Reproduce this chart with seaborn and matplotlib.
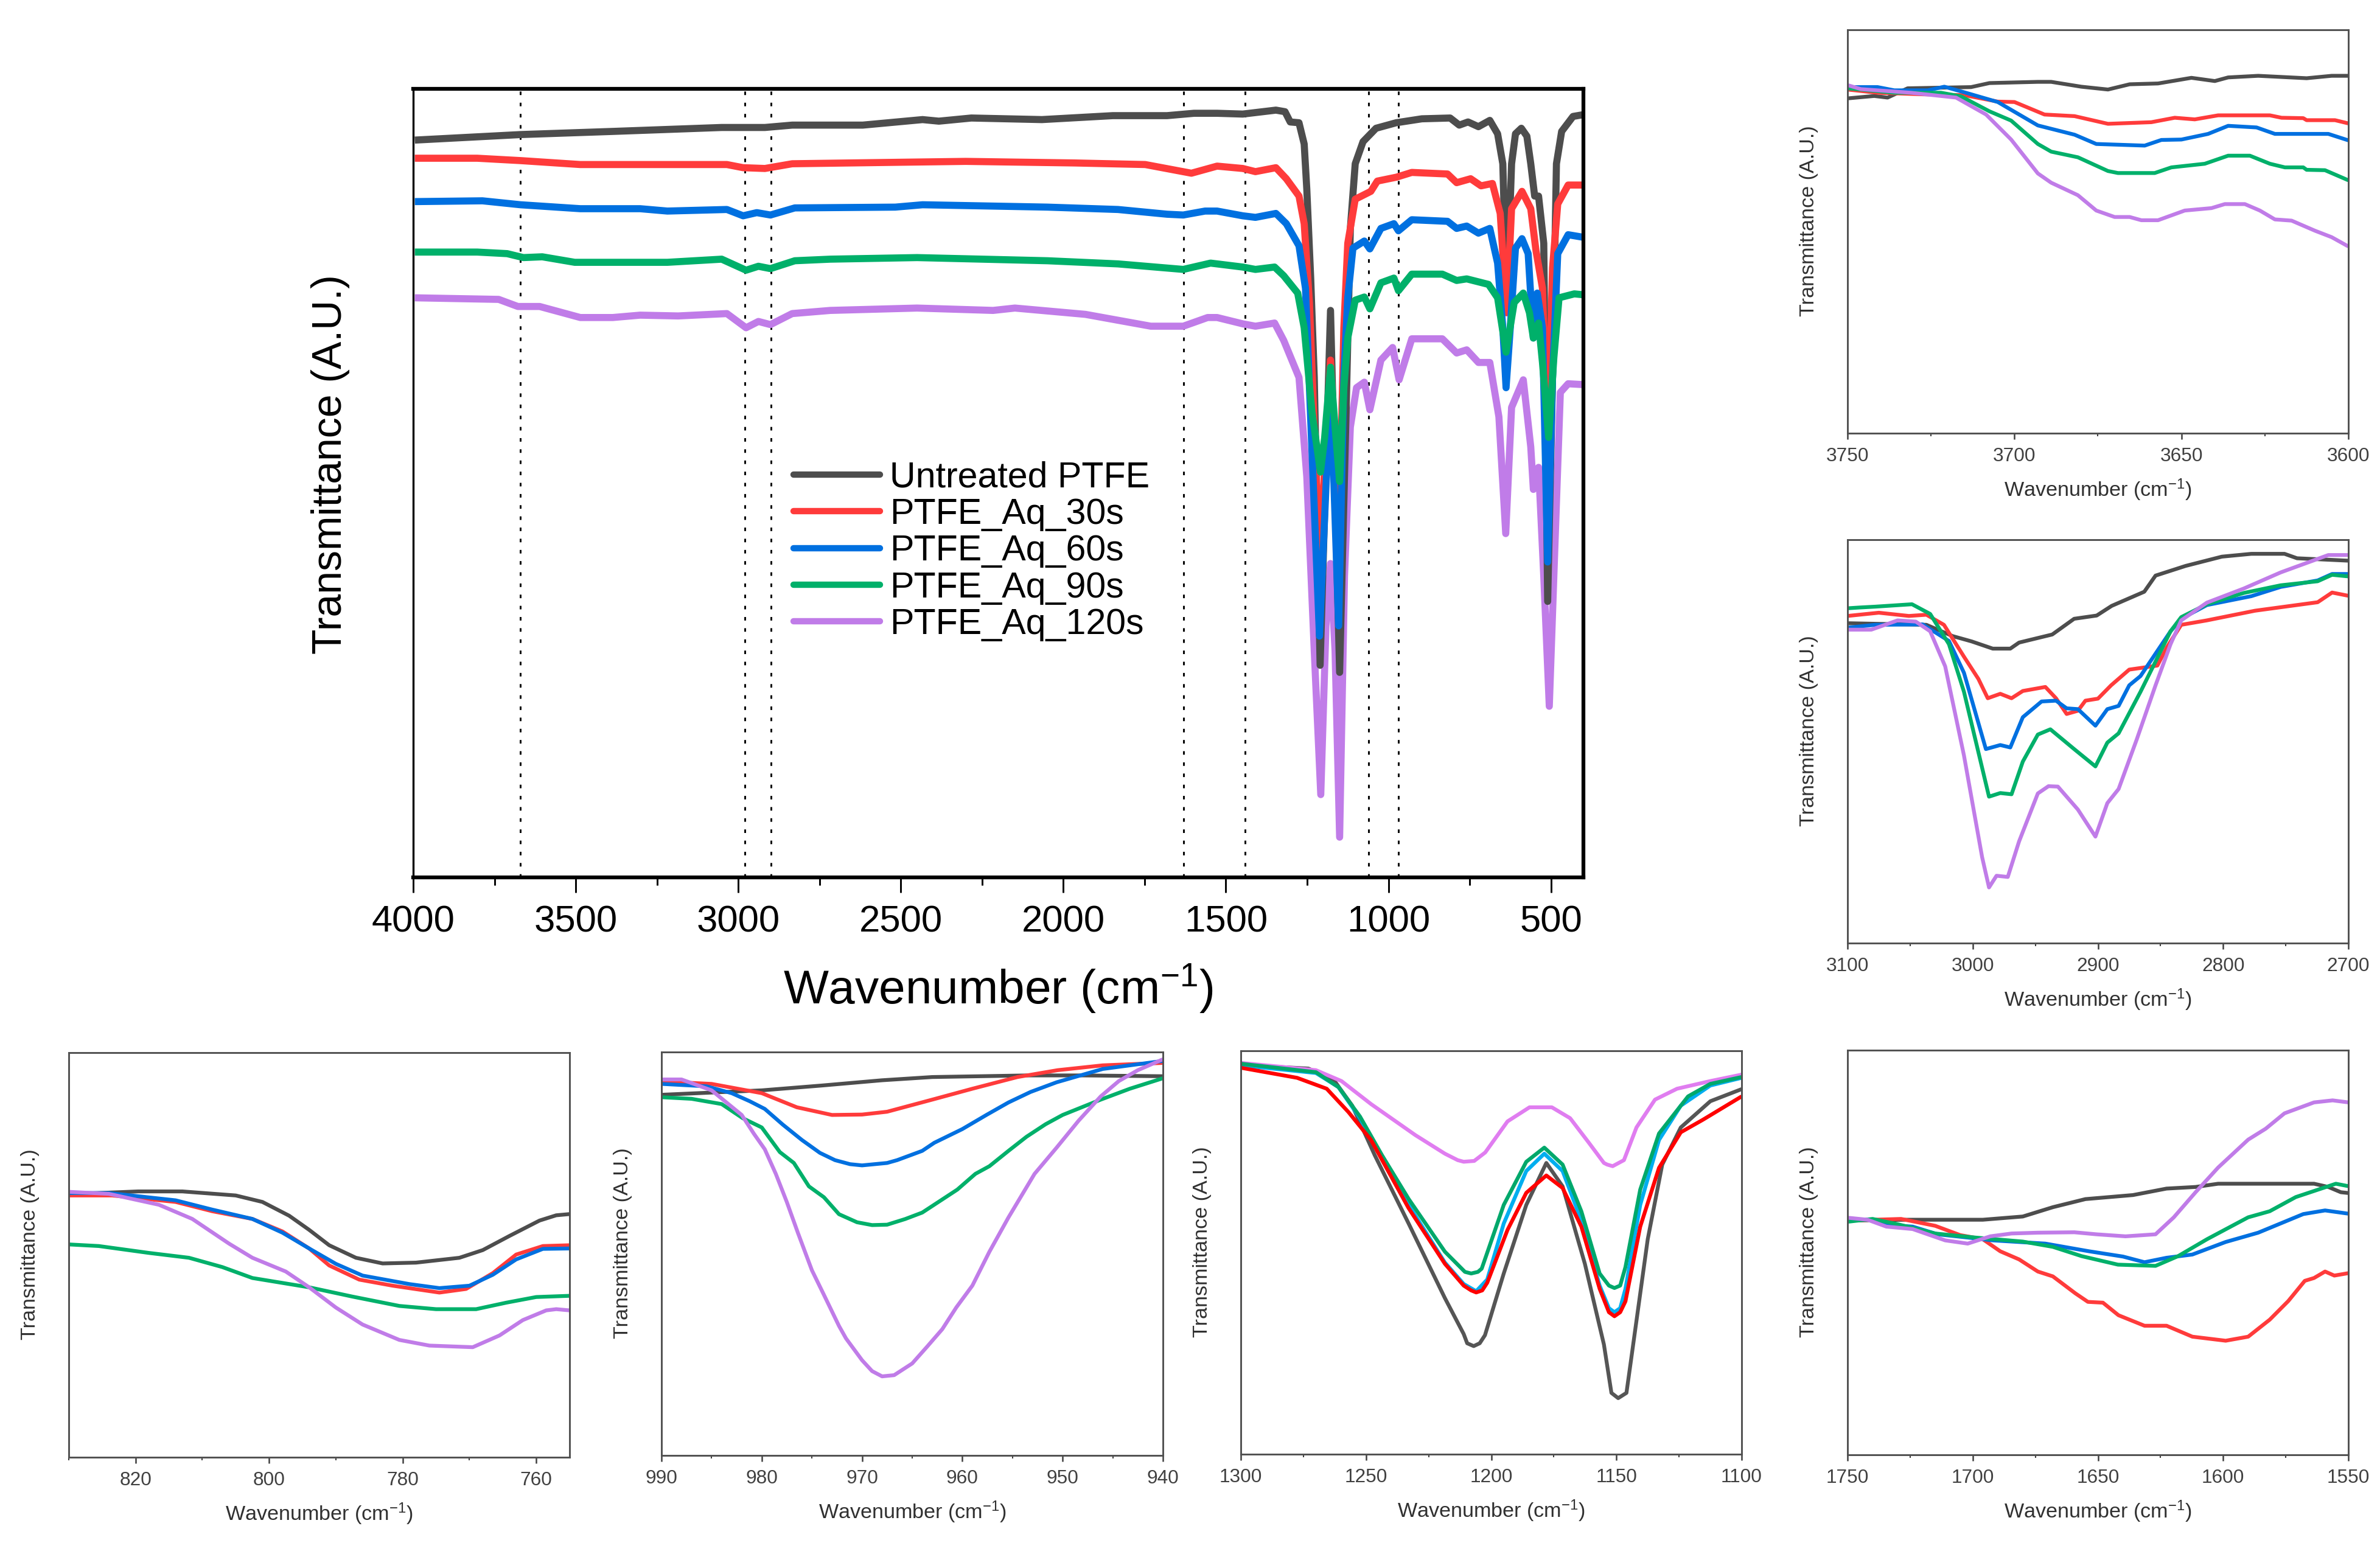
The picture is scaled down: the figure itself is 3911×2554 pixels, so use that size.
#!/usr/bin/env python3
# FTIR spectra of PTFE samples, overview plus six zoomed regions
import matplotlib
matplotlib.use('Agg')
import matplotlib.pyplot as plt
from matplotlib.lines import Line2D
from matplotlib.ticker import MultipleLocator
import seaborn as sns

# overview spectrum, y is % of the (unlabelled) axis height
main_black_x = [3995, 3670, 3386, 3051, 2918, 2834, 2617, 2433, 2383, 2283, 2066, 1848, 1681, 1598, 1527, 1448, 1346,
                1318, 1302, 1275, 1259, 1251, 1239, 1228, 1210, 1178, 1150, 1129, 1117, 1102, 1078, 1038, 976, 897,
                810, 782, 755, 723, 688, 664, 648, 636, 621, 609, 591, 574, 562, 550, 538, 522, 510, 495, 483, 467,
                432, 404]
main_black_y = [93.5, 94.2, 94.6, 95.1, 95.1, 95.4, 95.4, 96.1, 95.9, 96.3, 96.1, 96.6, 96.6, 96.9, 96.9, 96.8, 97.3,
                97.1, 95.8, 95.7, 93, 87.3, 76, 63.4, 26.9, 71.9, 26, 60.9, 82.3, 90.5, 93.3, 95, 95.7, 96.2,
                96.3, 95.4, 95.8, 95.2, 96, 94.3, 90.5, 72.8, 90.5, 94.3, 95, 94, 90.5, 86.4, 86.4, 80.4, 35, 63.4,
                90.5, 94.6, 96.5, 96.7]
main_red_x = [3995, 3803, 3670, 3486, 3035, 2985, 2918, 2834, 2483, 2300, 1965, 1748, 1606, 1527, 1448, 1409, 1346,
              1314, 1275, 1259, 1243, 1228, 1212, 1178, 1151, 1137, 1125, 1102, 1054, 1034, 975, 928, 818, 790, 747,
              715, 680, 656, 636, 621, 589, 562, 546, 526, 510, 495, 479, 447, 404]
main_red_y = [91.2, 91.2, 90.9, 90.4, 90.4, 90, 89.9, 90.5, 90.7, 90.8, 90.6, 90.4, 89.3, 90.2, 89.9, 89.5, 90,
              88.6, 86.4, 82.9, 72.9, 57, 40, 65.6, 44.5, 69.7, 80.4, 86, 87, 88.3, 88.8, 89.4, 89.2, 88.1, 88.6,
              87.7, 88, 84.2, 71.6, 84.8, 87, 84.8, 79.5, 74.7, 54.6, 77.3, 85.4, 87.8, 87.8]
main_blue_x = [3995, 3787, 3670, 3486, 3302, 3218, 3035, 2985, 2943, 2901, 2826, 2517, 2433, 2049, 1832, 1681, 1631,
               1564, 1527, 1448, 1409, 1346, 1314, 1275, 1255, 1235, 1212, 1178, 1153, 1137, 1125, 1109, 1074, 1057,
               1023, 983, 969, 928, 818, 790, 759, 723, 688, 664, 648, 638, 625, 609, 589, 570, 554, 542, 526, 510,
               495, 479, 447, 404]
main_blue_y = [85.7, 85.8, 85.3, 84.8, 84.8, 84.5, 84.7, 83.9, 84.3, 84, 84.9, 85, 85.3, 85, 84.7, 84.1, 84,
               84.5, 84.5, 83.9, 83.7, 84.2, 82.9, 80.1, 74.7, 54, 30.6, 62.8, 31.9, 63.4, 73.5, 79.8, 80.7, 79.7,
               82.3, 82.9, 82, 83.4, 83.2, 82.3, 82.6, 81.7, 82.3, 77.9, 69.7, 62.1, 69.7, 79.8, 81, 79.1, 68.4, 74.1,
               69.7, 40, 63.4, 79.1, 81.5, 81.2]
main_green_x = [3995, 3803, 3711, 3661, 3603, 3503, 3352, 3218, 3051, 2976, 2938, 2901, 2826, 2717, 2450, 2049, 1832,
                1631, 1547, 1527, 1448, 1409, 1350, 1322, 1279, 1259, 1235, 1209, 1196, 1178, 1164, 1150, 1137, 1125,
                1102, 1074, 1057, 1023, 983, 969, 928, 834, 790, 759, 692, 664, 638, 613, 585, 566, 554, 538, 526,
                507, 491, 475, 428, 404]
main_green_y = [79.3, 79.3, 79.1, 78.6, 78.7, 78, 78, 78, 78.4, 77, 77.5, 77.2, 78.2, 78.4, 78.6, 78.2, 77.8,
                77.1, 77.9, 77.8, 77.4, 77.1, 77.4, 76.3, 74.1, 69.7, 59, 51.4, 55.8, 64.7, 57.1, 50.2, 62.1, 68.4,
                73.2, 73.6, 72.1, 75.4, 76, 74.4, 76.5, 76.5, 75.7, 75.9, 75.2, 73.5, 66.6, 72.9, 74.1, 71.6, 68.4,
                70.3, 65.3, 55.8, 65.9, 73.5, 74, 73.9]
main_purple_x = [3995, 3737, 3678, 3611, 3486, 3386, 3302, 3185, 3035, 2976, 2938, 2901, 2834, 2717, 2450, 2216, 2149,
                 1932, 1731, 1631, 1556, 1527, 1448, 1409, 1350, 1322, 1275, 1251, 1228, 1208, 1192, 1178, 1164, 1150,
                 1135, 1117, 1098, 1074, 1057, 1023, 987, 967, 928, 834, 790, 759, 723, 688, 660, 639, 621, 585, 562,
                 554, 538, 522, 505, 491, 471, 447, 404]
main_purple_y = [73.5, 73.3, 72.4, 72.4, 71, 71, 71.3, 71.2, 71.5, 69.7, 70.5, 70.1, 71.5, 71.9, 72.2, 71.9, 72.2,
                 71.4, 69.9, 69.9, 71, 71, 70.2, 69.9, 70.3, 68.1, 63.4, 50.8, 28.7, 10.5, 31.9, 39.8, 28.7, 5.1,
                 38.2, 57.1, 62.1, 62.8, 59.3, 65.6, 67.2, 63.1, 68.3, 68.3, 66.5, 66.9, 65.3, 65.3, 58.4, 43.6, 59.6,
                 63.1, 54.6, 49.2, 52, 38.2, 21.7, 38.2, 61.5, 62.6, 62.5]
main_peaks = [3670, 2980, 2900, 1630, 1440, 1060, 970]

# 3750-3600 region
oh_black_x = [3750, 3742, 3738, 3732, 3713, 3707.5, 3693, 3689, 3680, 3672, 3665.5, 3657, 3647, 3640, 3636, 3627, 3612.5, 3605, 3600]
oh_black_y = [83, 83.6, 83.2, 85.5, 85.8, 86.8, 87.1, 87.1, 85.9, 85.2, 86.5, 86.7, 88.1, 87.3, 88.2, 88.6, 88, 88.6, 88.6]
oh_red_x = [3750, 3741, 3727, 3715, 3705, 3700, 3691, 3682, 3672, 3659, 3652, 3646, 3639, 3623.5, 3620, 3613.5, 3612.5, 3604, 3600]
oh_red_y = [85.2, 84.4, 84, 83.8, 82.2, 82.1, 79, 78.6, 76.7, 77.1, 78.2, 77.8, 78.8, 78.8, 78.2, 78.1, 77.6, 77.6, 76.8]
oh_blue_x = [3750, 3741, 3736, 3726, 3721, 3715, 3705, 3693, 3682, 3675.5, 3661, 3656, 3650, 3642, 3636, 3627.5, 3622, 3606, 3600]
oh_blue_y = [85.8, 85.8, 85, 85, 85.9, 84.5, 82.1, 76.3, 74, 71.7, 71.3, 72.7, 72.8, 74.2, 76.2, 75.8, 74.2, 74.2, 72.6]
oh_green_x = [3750, 3736, 3722, 3716, 3707.5, 3701, 3693, 3689, 3681, 3672, 3669, 3658, 3653, 3643, 3636, 3629.5, 3623.5, 3619, 3613.5, 3612.5, 3607, 3600]
oh_green_y = [85.5, 84.4, 84.4, 83.5, 79.8, 77.5, 71.7, 69.8, 68.4, 65, 64.5, 64.5, 65.9, 66.8, 68.8, 68.8, 66.8, 65.9, 65.9, 65.3, 65.2, 62.7]
oh_purple_x = [3750, 3746, 3731, 3717.5, 3708.5, 3701, 3693, 3689, 3681, 3675.5, 3670, 3665.5, 3662, 3657, 3649, 3641, 3637, 3631, 3626.5, 3622, 3617, 3610, 3605, 3600]
oh_purple_y = [86.3, 85.3, 84.4, 83.2, 79, 72.8, 64.4, 62.1, 59, 55.2, 53.6, 53.6, 52.8, 52.8, 55.2, 55.8, 56.8, 56.8, 55.2, 53, 52.7, 50.2, 48.6, 46.3]

# 3100-2700 region
ch_black_x = [3100, 3037, 3016, 3001, 2984, 2970, 2963, 2936.5, 2919, 2901, 2889, 2863, 2854, 2830, 2801, 2777.5, 2751, 2741, 2700]
ch_black_y = [79.3, 78.9, 76.1, 74.8, 73, 73, 74.5, 76.5, 80.4, 81.2, 83.6, 87.1, 91.1, 93.5, 95.8, 96.5, 96.5, 95.4, 94.8]
ch_red_x = [3100, 3075, 3051, 3037, 3023, 3007, 2995.5, 2988, 2978, 2969, 2960, 2942, 2933.5, 2925, 2916, 2910, 2900, 2889.5, 2875, 2852.5, 2845, 2833.5, 2813, 2774.5, 2724.5, 2713, 2700]
ch_red_y = [81.1, 81.9, 81.1, 81.4, 78.9, 71, 65.5, 60.7, 61.8, 60.7, 62.5, 63.5, 60.7, 56.8, 57.6, 60.1, 60.6, 63.9, 67.8, 68.8, 73.3, 78.9, 80, 82.4, 84.5, 86.9, 86.1]
ch_blue_x = [3100, 3078, 3040, 3019, 3007, 2989.5, 2978, 2970, 2960, 2945, 2933.5, 2925, 2916, 2902, 2892.5, 2883.5, 2875, 2866, 2842, 2833.5, 2813, 2777.5, 2754, 2724.5, 2713, 2700]
ch_blue_y = [78.2, 78.9, 79, 74.9, 67, 48.1, 49.1, 48.5, 56, 59.9, 60.1, 58.2, 58, 53.9, 58, 58.8, 63.9, 66.2, 77.3, 80.4, 83.8, 86, 88.3, 89.9, 91.5, 91.5]
ch_green_x = [3100, 3090, 3078, 3048.5, 3034, 3019, 3007, 2987, 2978, 2969, 2960, 2948, 2938, 2919, 2902, 2892.5, 2883.5, 2866, 2842, 2833.5, 2813, 2783.5, 2754, 2724.5, 2713, 2700]
ch_green_y = [83, 83.2, 83.4, 84, 81.6, 74.1, 62.3, 36.3, 37.2, 36.9, 45, 51.7, 53, 48.1, 43.8, 49.7, 52, 62.3, 77.3, 80.8, 84, 86.8, 88.7, 89.7, 91.3, 90.9]
ch_purple_x = [3100, 3081, 3060, 3045.5, 3034, 3022, 3007, 2992.5, 2987, 2981, 2972, 2963, 2948, 2939.5, 2932, 2916, 2902, 2892.5, 2883.5, 2869, 2854, 2842, 2833.5, 2813, 2783.5, 2754, 2716, 2700]
ch_purple_y = [77.7, 77.7, 80, 79.7, 77.3, 68.6, 46.5, 21.3, 13.8, 16.7, 16.4, 25.2, 37.1, 38.9, 38.8, 33.1, 26.4, 34.7, 38.2, 50.5, 63.9, 74.1, 80, 84.4, 87.9, 91.9, 96.2, 96.2]

# 830-755 region
r800_black_x = [830, 819.6, 813, 805, 801, 797, 794, 791, 787, 783, 778, 771.5, 768, 764, 759.5, 757, 755]
r800_black_y = [65, 65.7, 65.7, 64.7, 63.1, 59.7, 56.2, 52.4, 49.3, 47.9, 48.1, 49.3, 51.2, 54.7, 58.5, 59.8, 60.1]
r800_red_x = [830, 823.5, 814, 808.5, 802.5, 798, 794, 791, 786.5, 781.5, 774.5, 770.5, 766.5, 763, 759, 755]
r800_red_y = [64.7, 64.7, 63.1, 60.8, 58.9, 55.8, 51.6, 47.4, 43.9, 42.4, 40.7, 41.6, 45.5, 50.1, 52.2, 52.4]
r800_blue_x = [830, 824, 814, 808.5, 802.5, 798, 794, 790, 786, 779, 774.5, 770, 766.5, 763, 759, 755]
r800_blue_y = [65.3, 65.3, 63.5, 61.2, 58.9, 55.5, 51.6, 47.8, 44.9, 42.8, 41.8, 42.4, 45.1, 48.9, 51.5, 51.6]
r800_green_x = [830, 825.5, 818, 812, 807, 802.5, 794, 787.5, 780.5, 775, 769, 764.5, 760, 755]
r800_green_y = [52.6, 52.2, 50.5, 49.3, 47, 44.3, 42, 39.7, 37.4, 36.6, 36.6, 38.2, 39.6, 39.9]
r800_purple_x = [830, 824, 816.5, 811.5, 806, 802.5, 797.5, 794, 790, 786, 780.5, 776, 769.5, 765.5, 762, 758.5, 757, 755]
r800_purple_y = [65.6, 65.1, 62.4, 58.9, 52.8, 49.3, 45.9, 42, 37, 32.8, 29, 27.6, 27.2, 30.1, 33.9, 36.3, 36.6, 36.3]

# 990-940 region
r970_black_x = [990, 980, 974, 968, 963, 953.5, 948, 940]
r970_black_y = [89.4, 90.5, 91.7, 93, 93.8, 94.2, 94.2, 94]
r970_red_x = [990, 985, 980, 976.5, 973, 970, 967.5, 963, 959, 954.5, 950.5, 946, 940]
r970_red_y = [92.7, 92.1, 89.8, 86.3, 84.4, 84.5, 85.2, 88.2, 90.9, 93.8, 95.5, 96.7, 97.3]
r970_blue_x = [990, 985.5, 983, 981.2, 979.7, 977.9, 976, 974.2, 972.7, 971.2, 970, 967.5, 966.5, 964, 962.8, 960, 957.6, 955.4, 953.2, 950.6, 946, 940]
r970_blue_y = [92.1, 91.5, 89.8, 87.8, 85.9, 82, 78.2, 75, 73.2, 72.2, 71.9, 72.5, 73.2, 75.5, 77.5, 80.9, 84.4, 87.5, 90.1, 92.5, 95.8, 97.8]
r970_green_x = [990, 987, 984, 981.9, 980, 978.2, 976.8, 975.3, 973.8, 972.3, 970.5, 969, 967.5, 965.7, 964, 960.5, 958.7, 957.3, 955.4, 953.6, 951.7, 950, 946.2, 943.3, 940]
r970_green_y = [88.8, 88.4, 87.1, 83.6, 81.3, 75.2, 72.5, 66.7, 64, 59.8, 57.8, 57.1, 57.2, 58.6, 60.2, 65.9, 69.8, 71.7, 75.5, 79, 82.1, 84.4, 88.2, 90.9, 93.5]
r970_purple_x = [990, 988, 985, 982, 980.8, 979.7, 978.6, 977.5, 976.4, 975, 973.8, 972.3, 971.6, 970, 969, 968, 966.8, 965, 963.5, 962, 960.6, 959, 957.3, 955.4, 952.8, 950.6, 948.4, 946.2, 944.4, 942.5, 940]
r970_purple_y = [93.2, 93.2, 90.5, 84.4, 79.8, 75.9, 69.8, 62.8, 55.2, 45.9, 39.8, 32.1, 29, 23.6, 20.9, 19.6, 19.9, 22.8, 27, 31.3, 36.7, 42.1, 50.5, 59, 69.8, 76.3, 83, 89, 92.8, 95.5, 98.2]

# 1300-1100 region
cf_black_x = [1300, 1273, 1263, 1255.5, 1246.5, 1233, 1218.5, 1211, 1209.6, 1207, 1204.6, 1202.5, 1195, 1186, 1178, 1171.5, 1162.6, 1155, 1152, 1149.3, 1146, 1144, 1137.5, 1131.7, 1124.3, 1112.5, 1100]
cf_black_y = [96.5, 95.6, 92.9, 86.4, 74.1, 57.2, 38.7, 29.8, 27.5, 26.8, 27.5, 29.5, 44.8, 61.8, 72.2, 66.4, 47.2, 27.2, 15.2, 13.9, 15.2, 24.1, 53.3, 71.8, 81, 87.5, 90.5]
cf_red_x = [1300, 1277.5, 1265.7, 1257, 1248, 1233, 1218.5, 1211, 1208, 1206, 1203.6, 1201.6, 1193.5, 1186, 1178, 1171.5, 1164, 1156.7, 1153, 1150.8, 1148.5, 1146.4, 1140.5, 1133, 1124.3, 1115.5, 1100]
cf_red_y = [95.8, 93.3, 90.6, 84.8, 77.9, 61, 47.2, 41.8, 40.6, 40.1, 40.6, 42.5, 55.6, 64.8, 69.1, 66, 56.4, 41, 35.2, 34.2, 35.2, 37.9, 56.4, 71, 79.8, 82.9, 88.7]
cf_blue_x = [1300, 1270, 1261, 1252.4, 1243.6, 1233, 1218.5, 1211, 1206, 1201.6, 1195, 1186, 1178.8, 1171.5, 1164, 1156.7, 1153, 1150.8, 1148.5, 1146.4, 1140.5, 1133, 1124.3, 1112.5, 1100]
cf_blue_y = [96.4, 94.5, 91, 83.3, 73.3, 61.8, 47.5, 42.2, 40.4, 43.3, 57.2, 70.2, 74.5, 70.2, 57.9, 41.8, 36.2, 35.2, 36.2, 41, 61.8, 77.9, 86.4, 91.4, 93.3]
cf_green_x = [1300, 1270, 1261, 1252.4, 1243.6, 1233, 1218.5, 1210.5, 1208, 1205.3, 1203.8, 1195, 1186, 1178.8, 1171.5, 1164, 1156.7, 1153, 1150.8, 1148.5, 1146.4, 1140.5, 1133, 1121.4, 1112.5, 1100]
cf_green_y = [96.8, 94.7, 91, 83.7, 74.1, 63.3, 50.2, 45.2, 44.8, 45.2, 46, 61.8, 72.5, 76, 71.8, 60.2, 44.8, 41.8, 41.2, 41.8, 46.4, 65.6, 79.5, 88.7, 91.8, 93.5]
cf_purple_x = [1300, 1270, 1259.8, 1248, 1230.3, 1218.5, 1213.4, 1211, 1206.8, 1202.4, 1193.5, 1184.7, 1175.8, 1168.5, 1161, 1155, 1153.7, 1151.5, 1147, 1142, 1134.6, 1125.8, 1112.5, 1100]
cf_purple_y = [97, 95.2, 92.5, 86.8, 79.1, 74.5, 72.9, 72.5, 72.7, 74.8, 82.5, 86, 86, 83.3, 77.2, 72.2, 71.8, 71.4, 72.9, 81, 87.9, 90.6, 92.5, 94.1]

# 1750-1550 region
co_black_x = [1750, 1725.7, 1696, 1680, 1668, 1655, 1636, 1622.6, 1611, 1602, 1563.7, 1558, 1553, 1550]
co_black_y = [57.9, 58.1, 58.1, 58.9, 61.2, 63.2, 64.2, 65.8, 66.2, 67, 67, 66.2, 64.9, 64.7]
co_red_x = [1750, 1728.6, 1715, 1705, 1696, 1689, 1681.5, 1674, 1668, 1659, 1654, 1648, 1641.8, 1631.4, 1622.6, 1612.3, 1599, 1590, 1581.4, 1574, 1567.4, 1563.7, 1559.3, 1555.6, 1550]
co_red_y = [57.9, 58.3, 56.6, 54.3, 53.3, 50.3, 48.3, 45.3, 44.1, 39.9, 37.8, 37.6, 34.5, 31.9, 31.9, 29.2, 28.2, 29.2, 33.4, 38, 43, 43.7, 45.3, 44.3, 44.9]
co_blue_x = [1750, 1740, 1733, 1724, 1714, 1702, 1692, 1671, 1653.5, 1640, 1631.4, 1622.6, 1612.3, 1599, 1586, 1577, 1568, 1559.3, 1550]
co_blue_y = [58.1, 58.1, 56.8, 56.4, 54.5, 53.7, 53, 52.2, 50.3, 49, 47.6, 48.7, 49.5, 52.6, 54.9, 57.2, 59.5, 60.4, 59.6]
co_green_x = [1750, 1740, 1730, 1715, 1699, 1680, 1668, 1656.5, 1642, 1627, 1618, 1606.4, 1590, 1581.4, 1571, 1555, 1550]
co_green_y = [57.6, 58.3, 57, 54.7, 53.7, 52.7, 51.4, 49.1, 47, 46.7, 49.1, 53.3, 58.7, 60.2, 63.7, 67, 66.4]
co_purple_x = [1750, 1742, 1734.5, 1724, 1711, 1702, 1693, 1684.5, 1674, 1659.4, 1650.6, 1639, 1627, 1619.7, 1611, 1602, 1590, 1583, 1575.5, 1563.7, 1556.3, 1550]
co_purple_y = [58.6, 58.1, 56.4, 55.8, 53, 52.2, 54, 54.7, 54.9, 55, 54.5, 54, 54.5, 58.7, 64.9, 71, 77.9, 80.6, 84.4, 87.1, 87.6, 87.1]

sample_names = ['Untreated PTFE', 'PTFE_Aq_30s', 'PTFE_Aq_60s', 'PTFE_Aq_90s', 'PTFE_Aq_120s']
sample_colors = ['#4d4d4d', '#ff3b3b', '#0070e0', '#00b06a', '#c07ce8']
cf_colors = ['#555555', '#ff0000', '#00aeef', '#00a86b', '#e07df0']

W, H = 3911, 2554
sns.set_theme(style='white')
plt.rcParams['font.family'] = ['Liberation Sans', 'DejaVu Sans']
plt.rcParams['mathtext.default'] = 'regular'
fig = plt.figure(figsize=(W / 300, H / 300), dpi=300, facecolor='white')


def px_axes(left, top, right, bottom):
    """axes from pixel edges of the picture"""
    return fig.add_axes([left / W, 1 - bottom / H, (right - left) / W, (bottom - top) / H])


def draw_curves(ax, curves, colors, lw):
    for (xs, ys), color in zip(curves, colors):
        sns.lineplot(x=xs, y=ys, ax=ax, color=color, linewidth=lw, sort=False, estimator=None,
                     legend=False, solid_joinstyle='round', solid_capstyle='butt', clip_on=True)
    ax.set_ylim(0, 100)
    ax.set_yticks([])


def zoom_panel(box, xlim, major, curves, colors=sample_colors):
    ax = px_axes(*box)
    draw_curves(ax, curves, colors, 1.5)
    ax.set_xlim(*xlim)
    ax.xaxis.set_major_locator(MultipleLocator(major))
    ax.xaxis.set_minor_locator(MultipleLocator(major / 2))
    ax.tick_params(axis='x', which='major', bottom=True, length=2.4, width=0.6, pad=3.2, labelsize=7.6,
                   color='#404040', labelcolor='#404040')
    ax.tick_params(axis='x', which='minor', bottom=True, length=1.2, width=0.5, color='#404040')
    for spine in ax.spines.values():
        spine.set_color('#505050')
        spine.set_linewidth(0.7)
    ax.set_xlabel('Wavenumber (cm$^{-1}$)', fontsize=8.2, color='#303030', va='center')
    ax.set_ylabel('Transmittance (A.U.)', fontsize=8.2, color='#303030', va='center')
    ax.xaxis.set_label_coords(0.5, -0.14)
    ax.yaxis.set_label_coords(-0.077, 0.526)
    return ax


# main panel, purple goes underneath the others like in the original
ax = px_axes(679, 146, 2602, 1442)
for wn in main_peaks:
    ax.axvline(wn, color='black', lw=0.7, ls=(0, (2, 4.3)), zorder=1)
draw_curves(ax,
            [(main_purple_x, main_purple_y), (main_black_x, main_black_y), (main_red_x, main_red_y),
             (main_blue_x, main_blue_y), (main_green_x, main_green_y)],
            [sample_colors[4], sample_colors[0], sample_colors[1], sample_colors[2], sample_colors[3]], 2.8)
ax.set_xlim(4000, 400)
ax.xaxis.set_major_locator(MultipleLocator(500))
ax.xaxis.set_minor_locator(MultipleLocator(250))
ax.tick_params(axis='x', which='major', bottom=True, length=6, width=0.7, pad=5, labelsize=14.8, color='black',
               labelcolor='black')
ax.tick_params(axis='x', which='minor', bottom=True, length=3, width=0.7, color='black')
for side, width in zip(['top', 'bottom', 'left', 'right'], [1.5, 1.5, 0.8, 1.5]):
    ax.spines[side].set_color('black')
    ax.spines[side].set_linewidth(width)
ax.set_xlabel('Wavenumber (cm$^{-1}$)', fontsize=18.8, color='black', va='center')
ax.set_ylabel('Transmittance (A.U.)', fontsize=16.3, color='black', va='center')
ax.xaxis.set_label_coords(0.5, -0.141)
ax.yaxis.set_label_coords(-0.0705, 0.524)
handles = [Line2D([], [], color=c, lw=2.5, solid_capstyle='round') for c in sample_colors]
ax.legend(handles, sample_names, loc='center left', bbox_to_anchor=(0.325, 0.4136), frameon=False, fontsize=14.2,
          handlelength=2.4, handletextpad=0.27, labelspacing=0.09, borderpad=0, borderaxespad=0,
          labelcolor='black')

zoom_panel((3036, 49, 3859, 712), (3750, 3600), 50,
           [(oh_black_x, oh_black_y), (oh_red_x, oh_red_y), (oh_blue_x, oh_blue_y), (oh_green_x, oh_green_y),
            (oh_purple_x, oh_purple_y)])
zoom_panel((3036, 887, 3859, 1550), (3100, 2700), 100,
           [(ch_black_x, ch_black_y), (ch_red_x, ch_red_y), (ch_blue_x, ch_blue_y), (ch_green_x, ch_green_y),
            (ch_purple_x, ch_purple_y)])
zoom_panel((113, 1730, 936, 2395), (830, 755), 20,
           [(r800_black_x, r800_black_y), (r800_red_x, r800_red_y), (r800_blue_x, r800_blue_y),
            (r800_green_x, r800_green_y), (r800_purple_x, r800_purple_y)])
zoom_panel((1087, 1729, 1911, 2392), (990, 940), 10,
           [(r970_black_x, r970_black_y), (r970_red_x, r970_red_y), (r970_blue_x, r970_blue_y),
            (r970_green_x, r970_green_y), (r970_purple_x, r970_purple_y)])
zoom_panel((2039, 1727, 2862, 2390), (1300, 1100), 50,
           [(cf_black_x, cf_black_y), (cf_purple_x, cf_purple_y), (cf_blue_x, cf_blue_y), (cf_green_x, cf_green_y),
            (cf_red_x, cf_red_y)],
           colors=[cf_colors[0], cf_colors[4], cf_colors[2], cf_colors[3], cf_colors[1]])
zoom_panel((3036, 1726, 3859, 2391), (1750, 1550), 50,
           [(co_black_x, co_black_y), (co_red_x, co_red_y), (co_blue_x, co_blue_y), (co_green_x, co_green_y),
            (co_purple_x, co_purple_y)])

fig.savefig('out.png', dpi=300, facecolor='white')
